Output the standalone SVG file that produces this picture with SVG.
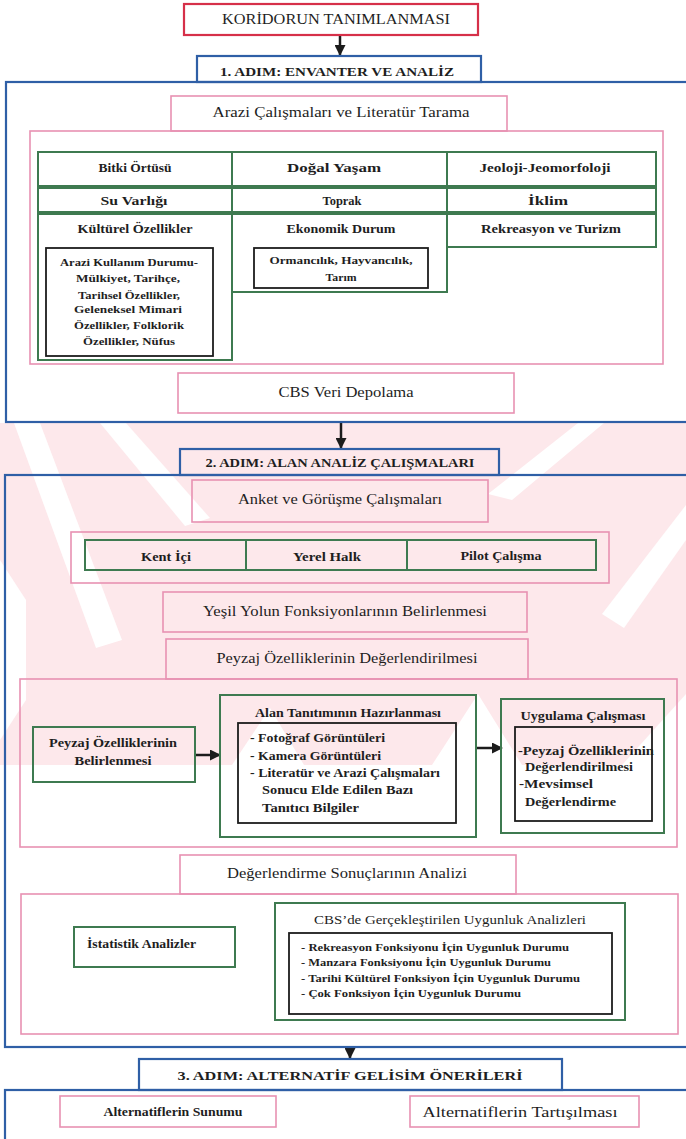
<svg xmlns="http://www.w3.org/2000/svg" width="686" height="1139" viewBox="0 0 686 1139" font-family="'Liberation Serif','Times New Roman','DejaVu Serif',serif">
<style>
  .blue{fill:none;stroke:#2f5fa6;stroke-width:2.2}
  .red{fill:none;stroke:#d63049;stroke-width:2.2}
  .pink{fill:none;stroke:#e891b2;stroke-width:1.6}
  .green{fill:none;stroke:#3e7a50;stroke-width:2}
  .black{fill:none;stroke:#1c1c1c;stroke-width:1.8}
  text{font-family:'Liberation Serif','Times New Roman','DejaVu Serif',serif;fill:#1e1e1e}
  .c{text-anchor:middle}
  .b{font-weight:bold}
  .t15{font-size:15px}
  .t14{font-size:14px}
  .t13{font-size:13px}
  .t12{font-size:12px}
  .t11{font-size:11px}
  .conn line{stroke:#1c1c1c;stroke-width:2.5}
  .wm{fill:#fde8eb}
  .wmw{fill:#ffffff}
</style>
<defs>
  <marker id="ah" markerUnits="userSpaceOnUse" markerWidth="11" markerHeight="11" refX="10" refY="5.5" orient="auto">
    <path d="M0,0 L11,5.5 L0,11 z" fill="#1c1c1c"/>
  </marker>
  <clipPath id="band"><rect x="0" y="423" width="686" height="342"/></clipPath>
</defs>
<rect width="686" height="1139" fill="#ffffff"/>
<g id="watermark" clip-path="url(#band)">
  <rect class="wm" x="0" y="423" width="686" height="342"/>
  <polygon class="wmw" points="14,423 40,423 122,640 96,648"/>
  <polygon class="wmw" points="100,423 126,423 210,518 185,526"/>
  <polygon class="wmw" points="0,560 26,600 26,700 0,740"/>
  <polygon class="wmw" points="578,423 604,423 512,500 488,494"/>
  <polygon class="wmw" points="686,505 686,540 624,628 602,614"/>
  <polygon class="wmw" points="232,765 270,708 304,765"/>
  <polygon class="wmw" points="432,765 478,694 522,765"/>
  <polygon class="wmw" points="622,765 686,694 686,765"/>
</g>

<g id="connectors" class="conn">
  <line x1="340" y1="35" x2="340" y2="55" marker-end="url(#ah)"/>
  <line x1="341" y1="423" x2="341" y2="448" marker-end="url(#ah)"/>
  <line x1="195" y1="755" x2="220" y2="755" marker-end="url(#ah)"/>
  <line x1="477" y1="748" x2="502" y2="748" marker-end="url(#ah)"/>
  <line x1="350" y1="1047" x2="350" y2="1058" marker-end="url(#ah)"/>
</g>

<g id="n-koridor">
  <rect class="red" x="184" y="4" width="294" height="31"/>
  <text class="c t14" x="336" y="24" textLength="228" lengthAdjust="spacingAndGlyphs">KORİDORUN TANIMLANMASI</text>
</g>

<g id="step1">
  <rect class="blue" x="6" y="82" width="700" height="340"/>
  <rect class="blue" x="197" y="56" width="284" height="26"/>
  <text class="c b t13" x="337" y="76" textLength="234" lengthAdjust="spacingAndGlyphs">1. ADIM: ENVANTER VE ANALİZ</text>
</g>

<g id="n-arazi">
  <rect class="pink" x="171" y="96" width="336" height="35"/>
  <rect class="pink" x="30" y="131" width="633" height="233"/>
  <text class="c t15" x="341" y="117" textLength="257" lengthAdjust="spacingAndGlyphs">Arazi Çalışmaları ve Literatür Tarama</text>
</g>

<g id="n-bitki">
  <rect class="green" x="38" y="152" width="194" height="34"/>
  <text class="c b t13" x="135" y="172" textLength="73" lengthAdjust="spacingAndGlyphs">Bitki Örtüsü</text>
</g>
<g id="n-dogal">
  <rect class="green" x="232" y="152" width="215" height="34"/>
  <text class="c b t13" x="334" y="172" textLength="94" lengthAdjust="spacingAndGlyphs">Doğal Yaşam</text>
</g>
<g id="n-jeoloji">
  <rect class="green" x="447" y="152" width="209" height="34"/>
  <text class="c b t13" x="545" y="172" textLength="131" lengthAdjust="spacingAndGlyphs">Jeoloji-Jeomorfoloji</text>
</g>
<g id="n-su">
  <rect class="green" x="38" y="188" width="194" height="24"/>
  <text class="c b t13" x="134" y="205" textLength="67" lengthAdjust="spacingAndGlyphs">Su Varlığı</text>
</g>
<g id="n-toprak">
  <rect class="green" x="232" y="188" width="215" height="24"/>
  <text class="c b t13" x="342" y="205" textLength="39" lengthAdjust="spacingAndGlyphs">Toprak</text>
</g>
<g id="n-iklim">
  <rect class="green" x="447" y="188" width="209" height="24"/>
  <text class="c b t13" x="548" y="205" textLength="40" lengthAdjust="spacingAndGlyphs">İklim</text>
</g>
<g id="n-kulturel">
  <rect class="green" x="38" y="214" width="194" height="146"/>
  <text class="c b t13" x="135" y="233" textLength="115" lengthAdjust="spacingAndGlyphs">Kültürel Özellikler</text>
  <rect class="black" x="46" y="248" width="167" height="108"/>
  <text class="c b t11" x="129" y="266" textLength="138" lengthAdjust="spacingAndGlyphs">Arazi Kullanım Durumu-</text>
  <text class="c b t11" x="128" y="282" textLength="104" lengthAdjust="spacingAndGlyphs">Mülkiyet, Tarihçe,</text>
  <text class="c b t11" x="129" y="299" textLength="102" lengthAdjust="spacingAndGlyphs">Tarihsel  Özellikler,</text>
  <text class="c b t11" x="128" y="313" textLength="108" lengthAdjust="spacingAndGlyphs">Geleneksel Mimari</text>
  <text class="c b t11" x="129" y="329" textLength="110" lengthAdjust="spacingAndGlyphs">Özellikler, Folklorik</text>
  <text class="c b t11" x="129" y="345" textLength="92" lengthAdjust="spacingAndGlyphs">Özellikler, Nüfus</text>
</g>
<g id="n-ekonomik">
  <rect class="green" x="232" y="214" width="215" height="78"/>
  <text class="c b t13" x="341" y="233" textLength="109" lengthAdjust="spacingAndGlyphs">Ekonomik Durum</text>
  <rect class="black" x="254" y="248" width="174" height="40"/>
  <text class="c b t11" x="341" y="264" textLength="143" lengthAdjust="spacingAndGlyphs">Ormancılık, Hayvancılık,</text>
  <text class="c b t11" x="341" y="281" textLength="31" lengthAdjust="spacingAndGlyphs">Tarım</text>
</g>
<g id="n-rekreasyon">
  <rect class="green" x="447" y="214" width="209" height="33"/>
  <text class="c b t13" x="551" y="233" textLength="140" lengthAdjust="spacingAndGlyphs">Rekreasyon ve Turizm</text>
</g>

<g id="n-cbsveri">
  <rect class="pink" x="178" y="373" width="336" height="40"/>
  <text class="c t15" x="346" y="397" textLength="135" lengthAdjust="spacingAndGlyphs">CBS Veri Depolama</text>
</g>

<g id="step2">
  <rect class="blue" x="5" y="475" width="701" height="572"/>
  <rect class="blue" x="180" y="449" width="319" height="26"/>
  <text class="c b t13" x="340" y="467" textLength="269" lengthAdjust="spacingAndGlyphs">2. ADIM: ALAN ANALİZ ÇALIŞMALARI</text>
</g>

<g id="n-anket">
  <rect class="pink" x="192" y="480" width="296" height="42"/>
  <text class="c t15" x="340" y="504" textLength="204" lengthAdjust="spacingAndGlyphs">Anket ve Görüşme Çalışmaları</text>
</g>
<g id="n-katilim">
  <rect class="pink" x="71" y="532" width="538" height="51"/>
</g>
<g id="n-kent">
  <rect class="green" x="85" y="540" width="161" height="30"/>
  <text class="c b t13" x="166" y="561" textLength="50" lengthAdjust="spacingAndGlyphs">Kent İçi</text>
</g>
<g id="n-yerel">
  <rect class="green" x="246" y="540" width="161" height="30"/>
  <text class="c b t13" x="327" y="561" textLength="68" lengthAdjust="spacingAndGlyphs">Yerel Halk</text>
</g>
<g id="n-pilot">
  <rect class="green" x="407" y="540" width="189" height="30"/>
  <text class="c b t13" x="501" y="560" textLength="81" lengthAdjust="spacingAndGlyphs">Pilot Çalışma</text>
</g>

<g id="n-yesil">
  <rect class="pink" x="163" y="592" width="364" height="40"/>
  <text class="c t15" x="345" y="616" textLength="284" lengthAdjust="spacingAndGlyphs">Yeşil Yolun Fonksiyonlarının Belirlenmesi</text>
</g>

<g id="n-peyzajdeg">
  <rect class="pink" x="166" y="639" width="362" height="40"/>
  <rect class="pink" x="20" y="679" width="657" height="168"/>
  <text class="c t15" x="347" y="663" textLength="261" lengthAdjust="spacingAndGlyphs">Peyzaj Özelliklerinin Değerlendirilmesi</text>
</g>

<g id="n-peyzajbel">
  <rect class="green" x="33" y="727" width="162" height="55"/>
  <text class="c b t13" x="113" y="747" textLength="128" lengthAdjust="spacingAndGlyphs">Peyzaj Özelliklerinin</text>
  <text class="c b t13" x="113" y="765" textLength="77" lengthAdjust="spacingAndGlyphs">Belirlenmesi</text>
</g>

<g id="n-alan">
  <rect class="green" x="220" y="695" width="256" height="142"/>
  <text class="c b t12" x="348" y="717" textLength="186" lengthAdjust="spacingAndGlyphs">Alan Tanıtımının Hazırlanması</text>
  <rect class="black" x="238" y="723" width="218" height="100"/>
  <text class="b t12" x="250" y="742" textLength="135" lengthAdjust="spacingAndGlyphs">- Fotoğraf Görüntüleri</text>
  <text class="b t12" x="250" y="760" textLength="131" lengthAdjust="spacingAndGlyphs">- Kamera Görüntüleri</text>
  <text class="b t12" x="250" y="777" textLength="190" lengthAdjust="spacingAndGlyphs">- Literatür ve Arazi Çalışmaları</text>
  <text class="b t12" x="262" y="794" textLength="151" lengthAdjust="spacingAndGlyphs">Sonucu Elde Edilen Bazı</text>
  <text class="b t12" x="262" y="812" textLength="97" lengthAdjust="spacingAndGlyphs">Tanıtıcı Bilgiler</text>
</g>

<g id="n-uygulama">
  <rect class="green" x="501" y="699" width="163" height="134"/>
  <text class="c b t12" x="583" y="720" textLength="125" lengthAdjust="spacingAndGlyphs">Uygulama Çalışması</text>
  <rect class="black" x="515" y="727" width="137" height="94"/>
  <text class="b t12" x="518" y="755" textLength="136" lengthAdjust="spacingAndGlyphs">-Peyzaj Özelliklerinin</text>
  <text class="b t12" x="525" y="771" textLength="108" lengthAdjust="spacingAndGlyphs">Değerlendirilmesi</text>
  <text class="b t12" x="519" y="788" textLength="74" lengthAdjust="spacingAndGlyphs">-Mevsimsel</text>
  <text class="b t12" x="525" y="806" textLength="91" lengthAdjust="spacingAndGlyphs">Değerlendirme</text>
</g>

<g id="n-degsonuc">
  <rect class="pink" x="180" y="855" width="336" height="39"/>
  <rect class="pink" x="21" y="894" width="657" height="140"/>
  <text class="c t15" x="347" y="878" textLength="240" lengthAdjust="spacingAndGlyphs">Değerlendirme Sonuçlarının Analizi</text>
</g>

<g id="n-istatistik">
  <rect class="green" x="74" y="927" width="161" height="40"/>
  <text class="b t13" x="87" y="948" textLength="109" lengthAdjust="spacingAndGlyphs">İstatistik Analizler</text>
</g>

<g id="n-cbsuygun">
  <rect class="green" x="275" y="903" width="350" height="117"/>
  <text class="c t13" x="450" y="924" textLength="272" lengthAdjust="spacingAndGlyphs">CBS’de Gerçekleştirilen Uygunluk Analizleri</text>
  <rect class="black" x="289" y="933" width="323" height="81"/>
  <text class="b t11" x="301" y="951" textLength="268" lengthAdjust="spacingAndGlyphs">- Rekreasyon Fonksiyonu İçin Uygunluk Durumu</text>
  <text class="b t11" x="301" y="966" textLength="250" lengthAdjust="spacingAndGlyphs">- Manzara Fonksiyonu İçin Uygunluk Durumu</text>
  <text class="b t11" x="301" y="982" textLength="279" lengthAdjust="spacingAndGlyphs">- Tarihi Kültürel Fonksiyon İçin Uygunluk Durumu</text>
  <text class="b t11" x="301" y="997" textLength="220" lengthAdjust="spacingAndGlyphs">- Çok Fonksiyon İçin Uygunluk Durumu</text>
</g>

<g id="step3">
  <rect class="blue" x="5" y="1090" width="701" height="60"/>
  <rect class="blue" x="139" y="1059" width="423" height="31"/>
  <text class="c b t13" x="350" y="1080" textLength="345" lengthAdjust="spacingAndGlyphs">3. ADIM: ALTERNATİF GELİSİM ÖNERİLERİ</text>
</g>

<g id="n-sunum">
  <rect class="pink" x="60" y="1096" width="216" height="31"/>
  <text class="c b t13" x="173" y="1116" textLength="139" lengthAdjust="spacingAndGlyphs">Alternatiflerin Sunumu</text>
</g>
<g id="n-tartisma">
  <rect class="pink" x="410" y="1096" width="229" height="31"/>
  <text class="c t15" x="520" y="1117" textLength="195" lengthAdjust="spacingAndGlyphs">Alternatiflerin Tartışılması</text>
</g>
</svg>
